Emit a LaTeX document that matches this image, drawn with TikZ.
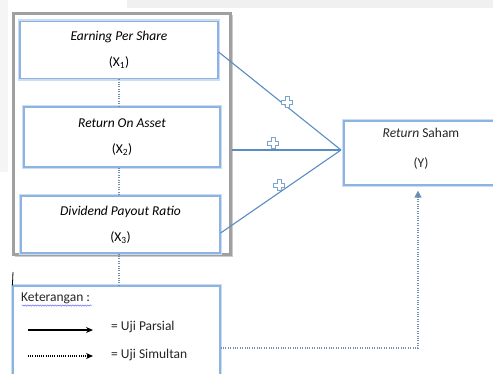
\documentclass[tikz,border=0pt]{standalone}
\usepackage{fontspec}
\setmainfont{Carlito}
\usetikzlibrary{arrows.meta,decorations.pathmorphing,calc}
\definecolor{boxblue}{HTML}{8DB3E2}
\definecolor{glow}{HTML}{CCDDF3}
\definecolor{linkblue}{HTML}{5A8CC2}
\definecolor{dotblue}{HTML}{6F8FB5}
\definecolor{framegray}{HTML}{A0A0A0}
\definecolor{bggray}{HTML}{F0F0F0}
\begin{document}
\begin{tikzpicture}[x=1pt,y=-1pt,
  font=\fontsize{13.5}{15}\selectfont,
  varbox/.style={draw=boxblue, line width=1.2pt, fill=white,
    preaction={draw=glow, line width=4.5pt}, inner sep=0pt, align=center},
  link/.style={draw=linkblue, line width=1.1pt},
  simul/.style={draw=dotblue, line width=1.3pt, dash pattern=on 1pt off 1.4pt},
  lbl/.style={inner sep=0pt, text=black!85},
  pics/plussign/.style={code={
    \draw[draw=linkblue!80, fill=white, line width=0.6pt]
      (-2,-5.5) -- (2,-5.5) -- (2,-2) -- (5.5,-2) -- (5.5,2) -- (2,2) -- (2,5.5)
      -- (-2,5.5) -- (-2,2) -- (-5.5,2) -- (-5.5,-2) -- (-2,-2) -- cycle;}}
]
\useasboundingbox (0,0) rectangle (493,373);
% faint background
\fill[bggray] (127,0) rectangle (493,8);
\fill[bggray!70] (0,0) rectangle (8,172);
% outer group frame
\fill[black!20] (15,15) rectangle (233,257);
\node[draw=framegray, line width=2.5pt, fill=white, minimum width=217pt, minimum height=241pt, inner sep=0pt]
  (group) at (122,134) {};
% variable boxes
\node[varbox, minimum width=198pt, minimum height=57pt] (X1) at (119,50)
  {\textit{Earning Per Share}\\[11pt](X\textsubscript{1})};
\node[varbox, minimum width=196pt, minimum height=60pt] (X2) at (122,137)
  {\textit{Return On Asset}\\[11pt](X\textsubscript{2})};
\node[varbox, minimum width=199pt, minimum height=57pt] (X3) at (120.5,224.5)
  {\textit{Dividend Payout Ratio}\\[11pt](X\textsubscript{3})};
% dependent box
\node[varbox, minimum width=154pt, minimum height=64pt] (Y) at (421,153) {};
\node[lbl] (Yt) at (421,133) {\textit{Return} Saham};
\node[lbl] (Ys) at (421,163) {(Y)};
% legend box
\node[varbox, minimum width=207pt, minimum height=94pt] (legend) at (116.5,333) {};
\draw[black, line width=0.8pt] (13,272) -- (legend.north west);
\node[lbl, anchor=west] (ket) at (21,298) {Keterangan :};
\draw[blue!70, line width=0.4pt, decorate, decoration={snake, amplitude=0.7pt, segment length=2.5pt}]
  (22,305.5) -- (92,305.5);
\coordinate (a1s) at (28,330);
\coordinate (a1e) at (93,330);
\coordinate (a2s) at (28,356);
\coordinate (a2e) at (93,356);
\draw[black, line width=1.1pt, -{Stealth[length=7pt,width=6pt]}] (a1s) -- (a1e);
\draw[black, line width=1.1pt, dash pattern=on 1pt off 1.2pt, -{Stealth[length=7pt,width=6pt]}] (a2s) -- (a2e);
\node[lbl, anchor=west] (parsial) at (111,327) {= Uji Parsial};
\node[lbl, anchor=west] (simultan) at (111,355) {= Uji Simultan};
% dotted verticals
\draw[simul] (X1.south) -- (X1.south |- X2.north);
\draw[simul] (X1.south |- X2.south) -- (X1.south |- X3.north);
\draw[simul] (X1.south |- X3.south) -- (X1.south |- legend.north);
% partial links
\coordinate (conv) at (341,150);
\draw[link] ([yshift=-2pt]X1.east) -- (conv);
\draw[link] (group.east |- conv) -- (conv);
\draw[link] ([yshift=-8.5pt]X3.east) -- (conv);
\pic at (287,102) {plussign};
\pic at (273,143) {plussign};
\pic at (279,185) {plussign};
% simultaneous link
\coordinate (c1) at (418,348);
\draw[simul, -{Triangle[length=7pt,width=7pt,fill=linkblue]}, shorten >=5pt]
  (legend.east |- c1) -- (c1) -- (Y.south -| c1);
\end{tikzpicture}
\end{document}
